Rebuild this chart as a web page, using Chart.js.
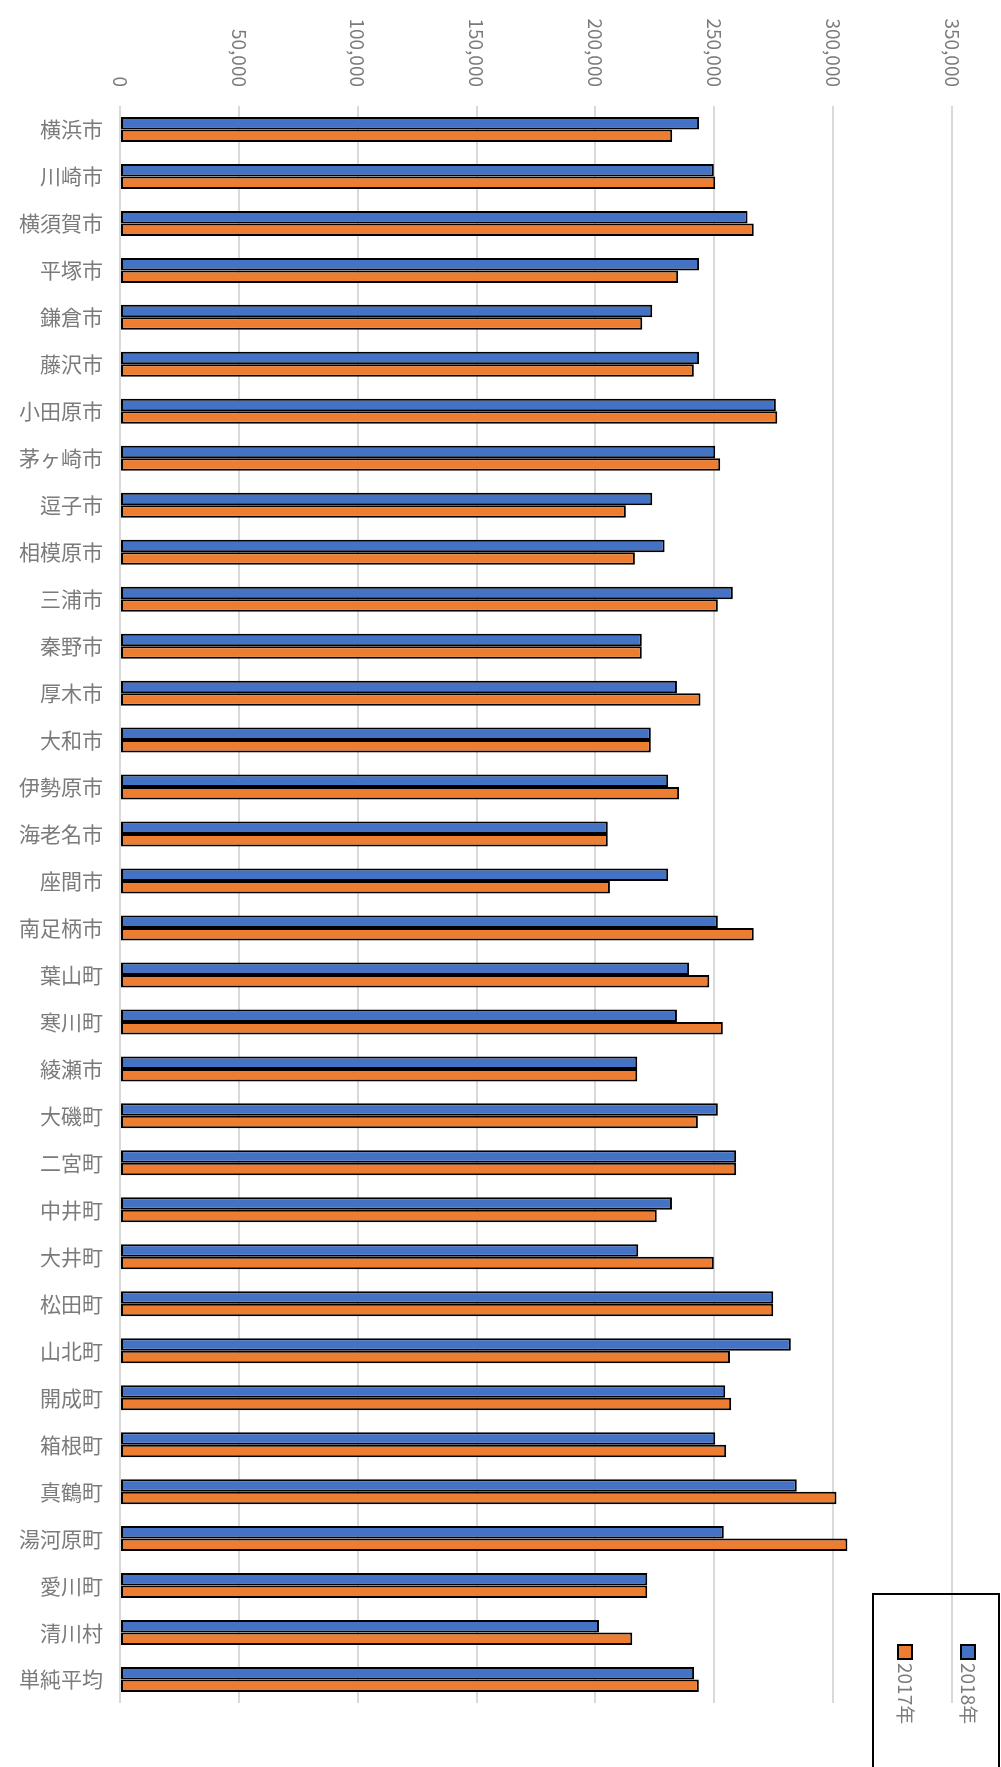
<!DOCTYPE html>
<html lang="ja">
<head>
<meta charset="utf-8">
<title>市町村別 2017年・2018年</title>
<script src="https://cdn.jsdelivr.net/npm/chart.js@4/dist/chart.umd.min.js"></script>
<style>
    html, body { margin: 0; padding: 0; background: #fff; }
    #wrap { width: 1001px; height: 1767px; }
</style>
</head>
<body>
<div id="wrap"><canvas id="chart" width="1001" height="1767"></canvas></div>
<script>
const categories = [
    '横浜市', '川崎市', '横須賀市', '平塚市', '鎌倉市', '藤沢市', '小田原市', '茅ヶ崎市',
    '逗子市', '相模原市', '三浦市', '秦野市', '厚木市', '大和市', '伊勢原市', '海老名市',
    '座間市', '南足柄市', '葉山町', '寒川町', '綾瀬市', '大磯町', '二宮町', '中井町',
    '大井町', '松田町', '山北町', '開成町', '箱根町', '真鶴町', '湯河原町', '愛川町',
    '清川村', '単純平均'
];

const values2018 = [
    243600, 249800, 264000, 243600, 223900, 243600, 275900, 250400,
    223900, 229100, 257800, 219500, 234300, 223300, 230600, 205200,
    230600, 251500, 239400, 234300, 217600, 251500, 259200, 232200,
    218000, 274800, 282200, 254600, 250400, 284700, 254000, 221800,
    201500, 241500
];

const values2017 = [
    232300, 250400, 266600, 234800, 219700, 241400, 276500, 252500,
    212800, 216600, 251500, 219500, 244200, 223300, 235200, 205200,
    206100, 266600, 247900, 253600, 217600, 243100, 259200, 225800,
    249800, 274800, 256600, 257100, 255000, 301400, 306000, 221800,
    215500, 243500
];

const seriesNames = ['2018年', '2017年'];
const seriesColors = ['#4472C4', '#ED7D31'];

const X_MIN = 0;
const X_MAX = 350000;
const X_STEP = 50000;

const labelFont = '"Noto Sans CJK JP", "Noto Sans", sans-serif';
const textGray = '#7b7b7b';

// x-axis numbers and legend entries are written top-to-bottom (rotated clockwise)
const verticalText = {
    id: 'verticalText',
    afterDraw(chart) {
        const ctx = chart.ctx;
        const xScale = chart.scales.x;

        ctx.save();
        ctx.fillStyle = textGray;
        ctx.font = '19px ' + labelFont;
        ctx.textAlign = 'right';
        ctx.textBaseline = 'middle';
        xScale.ticks.forEach(t => {
            const px = xScale.getPixelForValue(t.value);
            ctx.save();
            ctx.translate(px, chart.chartArea.top - 19);
            ctx.rotate(Math.PI / 2);
            ctx.fillText(t.value.toLocaleString('en-US'), 0, 0);
            ctx.restore();
        });
        ctx.restore();

        // legend frame, running off the bottom edge
        ctx.save();
        ctx.strokeStyle = '#000';
        ctx.lineWidth = 2;
        ctx.strokeRect(873, 1594, 126, 200);

        const entryX = [968, 905];
        chart.data.datasets.forEach((ds, i) => {
            const cx = entryX[i];
            ctx.fillStyle = ds.backgroundColor;
            ctx.fillRect(cx - 7, 1645, 14, 14);
            ctx.strokeStyle = '#000';
            ctx.lineWidth = 2;
            ctx.strokeRect(cx - 7, 1645, 14, 14);

            ctx.save();
            ctx.fillStyle = textGray;
            ctx.font = '19px ' + labelFont;
            ctx.textAlign = 'left';
            ctx.textBaseline = 'middle';
            ctx.translate(cx, 1663);
            ctx.rotate(Math.PI / 2);
            ctx.fillText(ds.label, 0, 0);
            ctx.restore();
        });
        ctx.restore();
    }
};

new Chart(document.getElementById('chart'), {
    type: 'bar',
    data: {
        labels: categories,
        datasets: [
            {
                label: seriesNames[0],
                data: values2018,
                backgroundColor: seriesColors[0],
                borderColor: '#000',
                borderWidth: 2,
                borderSkipped: false
            },
            {
                label: seriesNames[1],
                data: values2017,
                backgroundColor: seriesColors[1],
                borderColor: '#000',
                borderWidth: 2,
                borderSkipped: false
            }
        ]
    },
    options: {
        indexAxis: 'y',
        responsive: false,
        animation: false,
        datasets: {
            bar: {
                categoryPercentage: 0.532,
                barPercentage: 1.0
            }
        },
        layout: {
            padding: { top: 0, right: 49, bottom: 64, left: 0 }
        },
        plugins: {
            legend: { display: false },
            tooltip: { enabled: false }
        },
        scales: {
            x: {
                position: 'top',
                min: X_MIN,
                max: X_MAX,
                ticks: { stepSize: X_STEP, display: false },
                grid: { color: '#d9d9d9', lineWidth: 2, drawTicks: false },
                border: { display: false },
                afterFit: s => { s.height = 106; }
            },
            y: {
                grid: { display: false, drawTicks: false },
                border: { display: false },
                ticks: {
                    color: textGray,
                    padding: 17,
                    font: { family: labelFont, size: 21 }
                },
                afterFit: s => { s.width = 120; }
            }
        }
    },
    plugins: [verticalText]
});
</script>
</body>
</html>
